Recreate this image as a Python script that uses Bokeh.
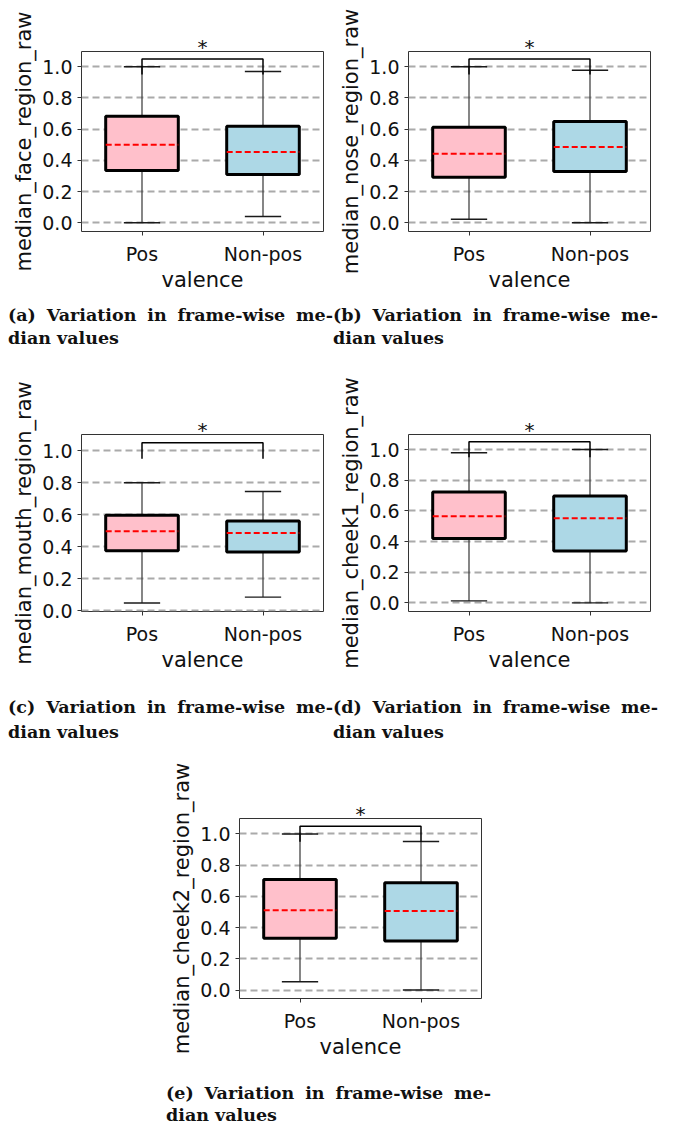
from bokeh.plotting import figure
from bokeh.layouts import column, row
from bokeh.models import Div, Spacer, FixedTicker, PrintfTickFormatter
from bokeh.embed import file_html
from bokeh.resources import INLINE

# ---------------- data ----------------
categories = ["Pos", "Non-pos"]
ylabels = ["median_face_region_raw", "median_nose_region_raw", "median_mouth_region_raw",
           "median_cheek1_region_raw", "median_cheek2_region_raw"]
captions = ["(a)", "(b)", "(c)", "(d)", "(e)"]
caption_text = "Variation in frame-wise me-"
caption_text2 = "dian values"
xlabel = "valence"
significance = "*"
box_colors = ["#FFC0CB", "#ADD8E6"]

# per panel: [Pos, Non-pos]
whisker_low = [[0.00, 0.04], [0.023, 0.00], [0.047, 0.084], [0.013, 0.00], [0.053, 0.00]]
q1 =          [[0.335, 0.31], [0.292, 0.329], [0.375, 0.367], [0.42, 0.339], [0.332, 0.315]]
median =      [[0.50, 0.453], [0.442, 0.485], [0.496, 0.486], [0.565, 0.552], [0.511, 0.507]]
q3 =          [[0.683, 0.619], [0.613, 0.649], [0.596, 0.561], [0.723, 0.697], [0.709, 0.687]]
whisker_high = [[1.00, 0.97], [1.00, 0.978], [0.80, 0.745], [0.979, 1.00], [1.00, 0.952]]
bracket_low = 0.95
bracket_high = 1.05
y_ticks = [0.0, 0.2, 0.4, 0.6, 0.8, 1.0]
y_ranges = [(-0.056, 1.098), (-0.056, 1.098), (-0.006, 1.102), (-0.056, 1.098), (-0.054, 1.099)]

# ---------------- layout params ----------------
TOP_PAD = 2
fig_w = [325, 330, 325, 330, 325]
fig_h = [302, 302, 323, 323, 322]
mb_left = [73, 75, 73, 75, 73]
mb_top = [49, 49, 62, 59, 58]
frame_h = [180, 180, 181, 180, 180]
frame_w = 242


def make_panel(i):
    y0, y1 = y_ranges[i]
    p = figure(width=fig_w[i], height=fig_h[i], x_range=(0.5, 2.5), y_range=(y0, y1),
               output_backend="svg", toolbar_location=None,
               min_border_left=mb_left[i], min_border_top=mb_top[i],
               min_border_right=fig_w[i] - mb_left[i] - frame_w,
               min_border_bottom=fig_h[i] - mb_top[i] - frame_h[i])
    p.margin = 0
    p.background_fill_color = "white"
    p.border_fill_color = "white"
    p.outline_line_color = "#333333"
    p.outline_line_width = 1

    # significance star as centered title just above the frame
    p.title.text = significance
    p.title.align = "center"
    p.title.text_font = "DejaVu Sans"
    p.title.text_font_size = "20px"
    p.title.text_font_style = "normal"
    p.title.text_color = "#111111"
    p.title.standoff = -15
    p.title.offset = 0

    xs = [1, 2]
    # grid
    p.xgrid.visible = False
    p.ygrid.ticker = FixedTicker(ticks=y_ticks)
    p.ygrid.grid_line_color = "#aaaaaa"
    p.ygrid.grid_line_width = 2
    p.ygrid.grid_line_dash = "7 4"

    # axes
    p.xaxis.ticker = FixedTicker(ticks=xs)
    p.xaxis.major_label_overrides = {1: categories[0], 2: categories[1]}
    p.yaxis.ticker = FixedTicker(ticks=y_ticks)
    p.yaxis.formatter = PrintfTickFormatter(format="%.1f")
    for ax in (p.xaxis, p.yaxis):
        ax.axis_line_color = None
        ax.major_tick_line_color = "#333333"
        ax.major_tick_line_width = 1
        ax.major_tick_out = 4
        ax.major_tick_in = 0
        ax.minor_tick_line_color = None
        ax.major_label_text_font = "DejaVu Sans"
        ax.major_label_text_font_size = "19px"
        ax.major_label_text_color = "#111111"
        ax.axis_label_text_font = "DejaVu Sans"
        ax.axis_label_text_font_size = "21px"
        ax.axis_label_text_font_style = "normal"
        ax.axis_label_text_color = "#111111"
    p.xaxis.axis_label = xlabel
    p.yaxis.axis_label = ylabels[i]
    p.xaxis.major_label_standoff = 7
    p.xaxis.axis_label_standoff = 0
    p.yaxis.major_label_standoff = 5
    p.yaxis.axis_label_standoff = 3

    lo, a, m, b, hi = whisker_low[i], q1[i], median[i], q3[i], whisker_high[i]
    # whiskers
    p.segment(x0=xs, x1=xs, y0=b, y1=hi, line_color="#444444", line_width=1.3)
    p.segment(x0=xs, x1=xs, y0=lo, y1=a, line_color="#444444", line_width=1.3)
    # caps
    p.segment(x0=[x - 0.15 for x in xs], x1=[x + 0.15 for x in xs], y0=hi, y1=hi,
              line_color="#1a1a1a", line_width=1.4)
    p.segment(x0=[x - 0.15 for x in xs], x1=[x + 0.15 for x in xs], y0=lo, y1=lo,
              line_color="#1a1a1a", line_width=1.4)
    # boxes
    p.vbar(x=xs, width=0.6, bottom=a, top=b, fill_color=box_colors,
           line_color="black", line_width=3)
    # medians
    p.segment(x0=[x - 0.3 for x in xs], x1=[x + 0.3 for x in xs], y0=m, y1=m,
              line_color="red", line_width=2, line_dash="6 3")
    # significance bracket
    p.line(x=[1, 1, 2, 2], y=[bracket_low, bracket_high, bracket_high, bracket_low],
           line_color="black", line_width=1.5)
    return p


def make_caption(i, width, height, lh):
    html = (
        f'<div style="font-family:\'DejaVu Serif\';font-weight:bold;font-size:17.5px;'
        f'line-height:{lh}px;color:#111;width:{width}px;">'
        f'<div style="white-space:nowrap;display:flex;justify-content:space-between;">'
        + "".join(f"<span>{w}</span>" for w in (captions[i] + " " + caption_text).split(" "))
        + f'</div><div>{caption_text2}</div></div>'
    )
    d = Div(text=html, width=width, height=height)
    d.margin = 0
    return d


panels = [make_panel(i) for i in range(5)]

r1 = row(panels[0], panels[1])
c1 = row(make_caption(0, 325, 68, 23), make_caption(1, 325, 68, 23))
r2 = row(panels[2], panels[3])
c2 = row(make_caption(2, 325, 65, 25), make_caption(3, 325, 65, 25))
s1 = Spacer(width=158, height=322)
r3 = row(s1, panels[4])
s2 = Spacer(width=158, height=46)
c3 = row(s2, make_caption(4, 325, 46, 22))

inner = column(Spacer(width=10, height=TOP_PAD), r1, c1, r2, c2, r3, c3)
layout = row(Spacer(width=8, height=10), inner)
for obj in (r1, c1, r2, c2, r3, c3, inner, layout):
    obj.margin = 0
    obj.spacing = 0

open("out.html", "w").write(file_html(layout, INLINE))
